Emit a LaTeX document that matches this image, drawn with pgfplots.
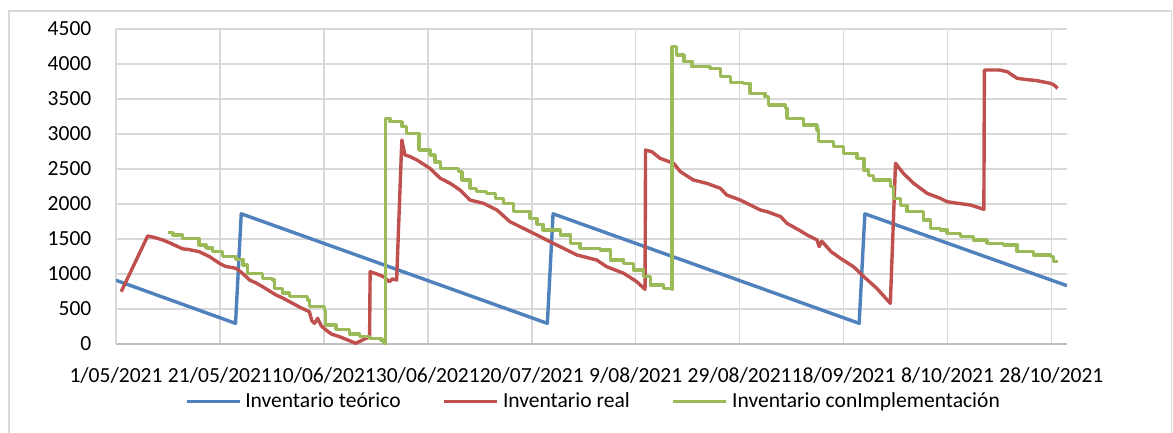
\documentclass[border=0pt]{standalone}
\usepackage{fontspec}
\setmainfont{Carlito}
\usepackage{pgfplots}
\pgfplotsset{compat=1.18}
\definecolor{cblue}{HTML}{4F81BD}
\definecolor{cred}{HTML}{C0504D}
\definecolor{cgreen}{HTML}{9BBB59}
\definecolor{cgrid}{HTML}{D9D9D9}
\begin{document}
\begin{tikzpicture}[x=1bp,y=1bp]
\useasboundingbox (0,0) rectangle (586.5,216);
\draw[cgrid, line width=0.75bp] (4.5,-20) rectangle (585.8,210.5);
\begin{axis}[
  at={(58bp,44bp)}, anchor=south west,
  scale only axis, width=475.5bp, height=157.5bp,
  xmin=0, xmax=183, ymin=0, ymax=4500,
  xtick={0,20,...,180},
  xticklabels={1/05/2021,21/05/2021,10/06/2021,30/06/2021,20/07/2021,9/08/2021,29/08/2021,18/09/2021,8/10/2021,28/10/2021},
  ytick={0,500,...,4500},
  grid=major, major grid style={cgrid, line width=0.75bp},
  axis x line=bottom, axis y line=left,
  x axis line style={-, draw=black!25, line width=0.9bp},
  y axis line style={-, draw=cgrid, line width=0.75bp},
  tick style={draw=none},
  /pgf/number format/assume math mode=true,
  /pgf/number format/1000 sep={},
  tick label style={font=\fontsize{10.8}{13}\selectfont, inner sep=0pt},
  yticklabel style={anchor=east, xshift=-10bp},
  xticklabel style={anchor=base, yshift=-17bp},
  legend columns=3,
  legend style={at={(0.503,-0.183)}, anchor=center, draw=none, fill=none,
    font=\fontsize{10.8}{13}\selectfont,
    /tikz/every even column/.append style={column sep=19bp}},
  legend image code/.code={\draw[#1, line width=1.7bp] (-1bp,0bp) -- (25.5bp,0bp);},
  every axis plot/.append style={line width=1.7bp, line join=round, no markers},
]
\addplot[cblue, sharp plot] coordinates {(0,910)(23,295)(24.1,1860)(83,295)(84.1,1860)(143,295)(144.1,1860)(183,833)};
\addlegendentry{Inventario teórico}
\addplot[cred, sharp plot] coordinates {(1,748)(6.1,1543)(7.5,1520)(9,1486)(10.5,1440)(12.8,1360)(14,1350)(16,1319)(18,1248)(19.9,1153)(21,1110)(23.1,1081)(24.5,1000)(25.7,914)(27,870)(28.2,819)(30.8,700)(32,660)(34,581)(35.5,520)(37.2,462)(37.7,330)(38.2,295)(38.8,367)(39.5,260)(40.4,200)(41.5,140)(43,105)(44.5,60)(46.1,10)(48.8,105)(48.9,1033)(50.7,986)(51.5,960)(52.6,890)(53.2,930)(54,914)(55,2914)(55.6,2700)(56.5,2680)(57.9,2629)(60.4,2510)(62.4,2367)(64.3,2295)(66.2,2200)(68.1,2057)(70.7,2010)(73.3,1914)(75.8,1748)(78.4,1652)(81,1557)(83.5,1462)(86.1,1367)(88.7,1271)(92.5,1200)(94.4,1105)(97.7,1010)(100.2,890)(101.8,781)(101.9,2771)(103.1,2747)(104.7,2652)(107.3,2581)(108.6,2462)(111.1,2343)(113.7,2295)(116.3,2224)(117.5,2129)(120.1,2057)(121.4,2010)(124,1914)(125.3,1890)(127.9,1819)(129.1,1724)(131.4,1629)(133,1557)(134.9,1486)(135.3,1390)(135.8,1470)(137.6,1319)(139.4,1224)(141.9,1105)(143.9,962)(146.4,795)(149,581)(150,2581)(151.5,2438)(153.5,2295)(156.1,2152)(158.6,2081)(159.9,2033)(162,2010)(164.4,1986)(167,1924)(167.1,3914)(170,3914)(171.5,3890)(173.4,3795)(175,3780)(177.2,3762)(179.8,3724)(180.5,3700)(181.2,3652)};
\addlegendentry{Inventario real}
\addplot[cgreen, const plot] coordinates {(10,1590)(11,1557)(12.8,1510)(15.7,1510)(16,1414)(17.3,1370)(18.6,1319)(20.5,1248)(23.1,1210)(24.4,1129)(25.3,1010)(28.2,938)(30.1,914)(30.5,795)(32,730)(33.4,676)(36.9,629)(37.2,533)(40.1,476)(40.3,271)(42.3,210)(44.9,143)(46.8,105)(48.8,81)(51,57)(51.6,10)(51.9,3224)(52.7,3176)(55,3105)(55.9,3010)(58.2,3010)(58.3,2771)(60.4,2700)(61.4,2600)(62.4,2510)(65.9,2462)(66.6,2343)(68.1,2224)(69.4,2176)(71.3,2152)(73,2080)(74.6,2010)(76.5,1890)(79.7,1795)(81,1710)(82.2,1629)(85.5,1557)(87.4,1438)(89.3,1367)(93.2,1343)(95.1,1200)(97.7,1153)(99.6,1057)(101.5,962)(102.8,843)(105.4,795)(106.9,780)(107,4247)(107.9,4129)(109.3,4040)(110.8,3962)(114.3,3938)(116.3,3819)(118.2,3733)(120.8,3724)(122,3581)(124.9,3533)(125.6,3414)(128.8,3367)(129.1,3224)(132.3,3129)(134.9,3057)(135.2,2890)(138.1,2819)(140,2724)(142.6,2652)(143.9,2486)(144.8,2410)(145.8,2343)(149,2247)(149.6,2081)(151,1980)(152.2,1890)(155.4,1771)(156.7,1652)(158.6,1629)(159.9,1581)(162.5,1533)(165,1486)(167.6,1438)(170.8,1414)(173.4,1319)(176.6,1271)(179.8,1248)(180.4,1176)(181.2,1176)};
\addlegendentry{Inventario conImplementación}
\end{axis}
\end{tikzpicture}
\end{document}
